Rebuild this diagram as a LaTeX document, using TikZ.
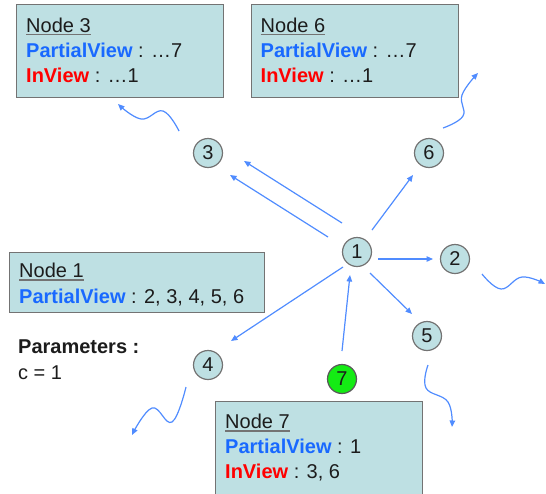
\documentclass[tikz,border=0pt]{standalone}
\usepackage{fontspec}
\setmainfont{Liberation Sans}
\usetikzlibrary{arrows.meta}

\definecolor{boxfill}{RGB}{190,224,227}
\definecolor{boxline}{RGB}{115,115,115}
\definecolor{ink}{RGB}{28,28,28}
\definecolor{pvblue}{RGB}{25,105,255}
\definecolor{ivred}{RGB}{255,0,0}
\definecolor{linkblue}{RGB}{80,140,255}
\definecolor{newgreen}{RGB}{20,235,20}

\newcommand\pv{\textcolor{pvblue}{\textbf{PartialView}}}
\newcommand\iv{\textcolor{ivred}{\textbf{InView}}}

\tikzset{
  infobox/.style={draw=boxline, line width=1.4pt, fill=boxfill, inner sep=0pt,
    anchor=north west, minimum width=207pt, minimum height=93pt},
  txt/.style={anchor=base west, inner sep=0pt, text=ink, font=\fontsize{20}{24}\selectfont},
  ul/.style={draw=boxline, line width=1.1pt},
  peer/.style={circle, draw=boxline, line width=1.2pt, fill=boxfill, minimum size=29pt,
    inner sep=0pt, text=ink, font=\fontsize{20}{24}\selectfont},
  newpeer/.style={peer, fill=newgreen, draw=black!65},
  link/.style={draw=linkblue, line width=1.2pt, -{Triangle[length=6.5pt,width=5.5pt]}},
}

\begin{document}
\begin{tikzpicture}[x=1pt, y=-1pt]
\useasboundingbox (0,0) rectangle (546,493);

% information boxes
\node[infobox] (box3) at (15.5,3.5) {};
\node[infobox] (box6) at (250.5,3.5) {};
\node[infobox, minimum width=255pt, minimum height=60pt] (box1) at (8.5,252) {};
\node[infobox] (box7) at (214.5,400.5) {};

% box contents
\node[txt] (t3a) at (26,32) {Node 3};
\node[txt] (t3b) at (26,57) {\pv{} : …7};
\node[txt] (t3c) at (26,82) {\iv{} : …1};

\node[txt] (t6a) at (260.5,32) {Node 6};
\node[txt] (t6b) at (260.5,57) {\pv{} : …7};
\node[txt] (t6c) at (260.5,82) {\iv{} : …1};

\node[txt] (t1a) at (19,277.5) {Node 1};
\node[txt] (t1b) at (19,303) {\pv{} : 2, 3, 4, 5, 6};

\node[txt] (t7a) at (225,428.5) {Node 7};
\node[txt] (t7b) at (225,453.5) {\pv{} : 1};
\node[txt] (t7c) at (225,478) {\iv{} : 3, 6};

\foreach \t in {t3a,t6a,t1a,t7a}
  \draw[ul] ([yshift=-2.5pt]\t.base west) -- ([yshift=-2.5pt]\t.base east);

% parameters
\node[txt] (par) at (18,353) {\textbf{Parameters :}};
\node[txt] (cval) at (18,379) {c = 1};

% peers
\node[peer] (c1) at (357,252) {1};
\node[peer] (c2) at (455,259) {2};
\node[peer] (c3) at (208,153) {3};
\node[peer] (c4) at (208,365) {4};
\node[peer] (c5) at (427,336) {5};
\node[peer] (c6) at (429,153) {6};
\node[newpeer] (c7) at (342,379) {7};

% direct links
\draw[link] ([shift={(21,7)}]c1.center) -- ([shift={(-22,0)}]c2.center);
\draw[link] ([shift={(-15,-29)}]c1.center) -- ([shift={(36,8)}]c3.center);
\draw[link] ([shift={(-29,-15)}]c1.center) -- ([shift={(22,22)}]c3.center);
\draw[link] ([shift={(15,-22)}]c1.center) -- ([shift={(-16,22)}]c6.center);
\draw[link] ([shift={(13,21)}]c1.center) -- ([shift={(-15,-22)}]c5.center);
\draw[link] ([shift={(-14,15)}]c1.center) -- ([shift={(23,-24)}]c4.center);
\draw[link] ([shift={(0,-28)}]c7.center) -- ([shift={(-7,23)}]c1.center);

% forwarded links
\coordinate (w3a) at (179,131); \coordinate (w3b) at (163,111);
\coordinate (w3c) at (141,119); \coordinate (w3d) at (118,104);
\draw[link] plot[smooth, tension=0.7] coordinates {(w3a) (w3b) (w3c) (w3d)};

\coordinate (w6a) at (443,128); \coordinate (w6b) at (463,116);
\coordinate (w6c) at (462,95); \coordinate (w6d) at (478,73);
\draw[link] plot[smooth, tension=0.7] coordinates {(w6a) (w6b) (w6c) (w6d)};

\coordinate (w2a) at (482,274); \coordinate (w2b) at (501,289);
\coordinate (w2c) at (522,277); \coordinate (w2d) at (545,284);
\draw[link] plot[smooth, tension=0.7] coordinates {(w2a) (w2b) (w2c) (w2d)};

\coordinate (w4a) at (186,387); \coordinate (w4b) at (172,422);
\coordinate (w4c) at (152,408); \coordinate (w4d) at (132,435);
\draw[link] plot[smooth, tension=0.7] coordinates {(w4a) (w4b) (w4c) (w4d)};

\coordinate (w5a) at (428,365); \coordinate (w5b) at (426,388);
\coordinate (w5c) at (448,402); \coordinate (w5d) at (452,427);
\draw[link] plot[smooth, tension=0.7] coordinates {(w5a) (w5b) (w5c) (w5d)};
\end{tikzpicture}
\end{document}
